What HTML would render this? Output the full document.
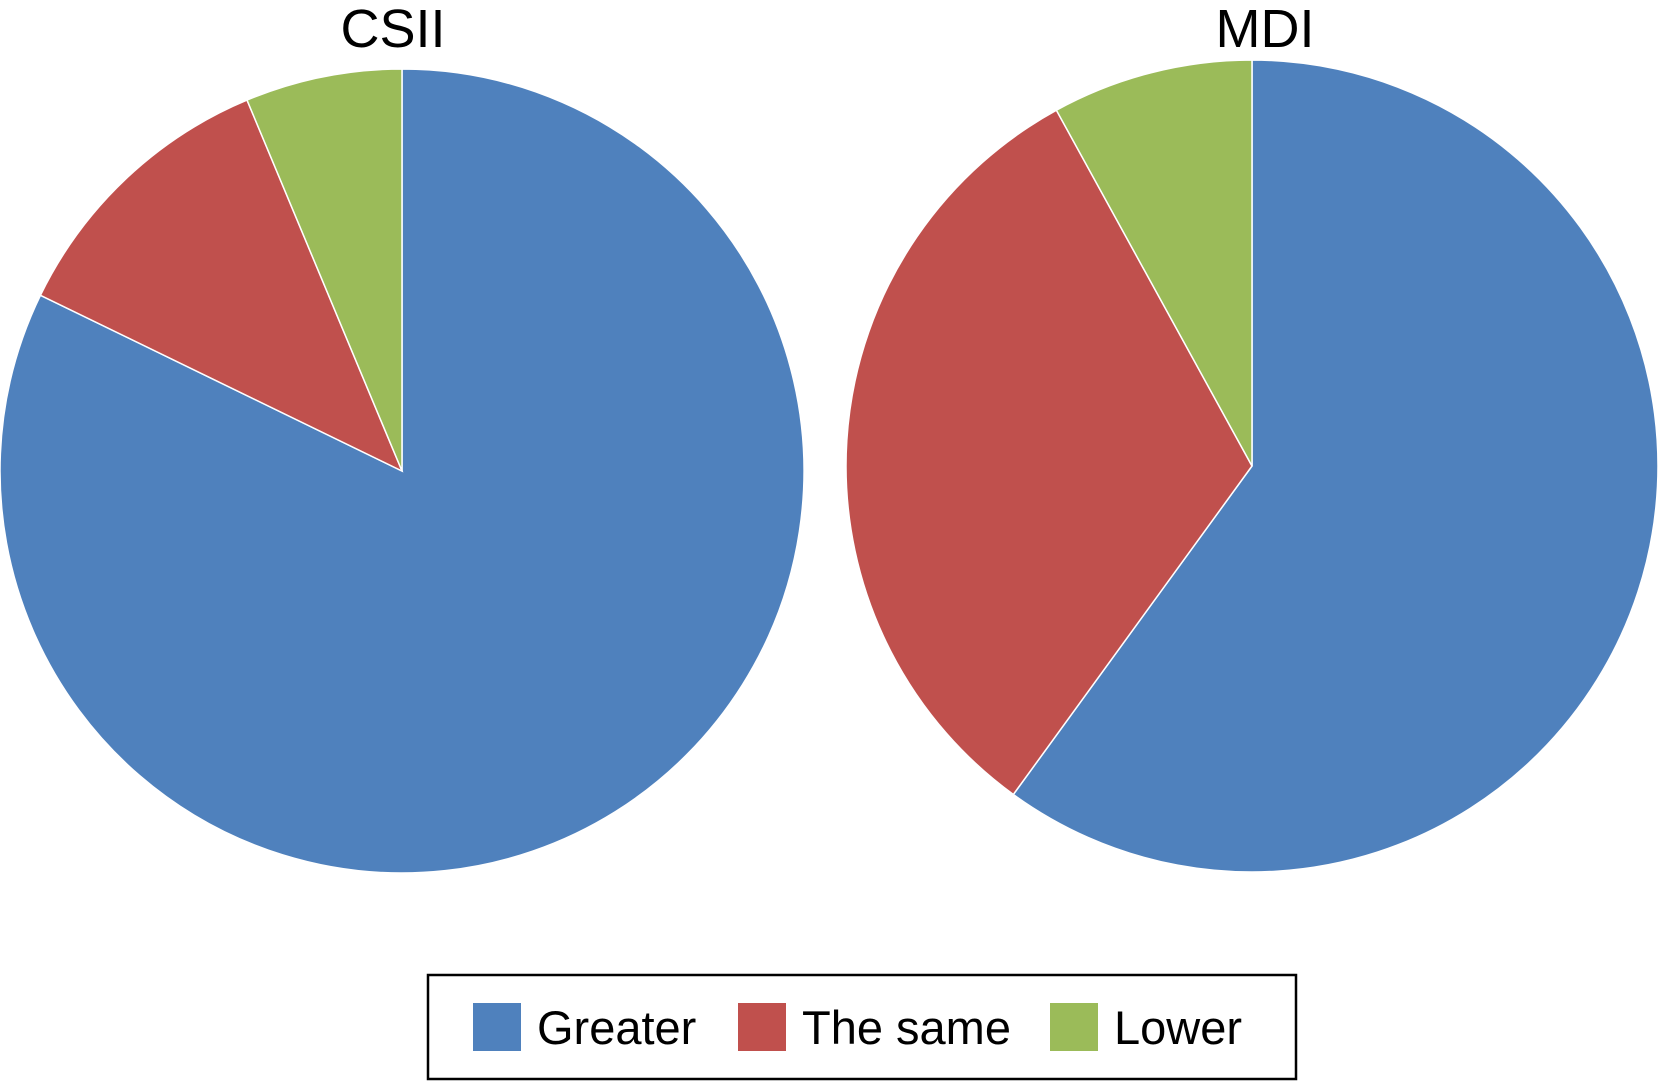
<!DOCTYPE html>
<html><head><meta charset="utf-8"><style>
html,body{margin:0;padding:0;background:#fff;}
svg{display:block;font-family:"Liberation Sans",Arial,sans-serif;}
</style></head><body>
<svg id="chart" width="1658" height="1081" viewBox="0 0 1658 1081">
<text x="393" y="47" font-size="54" text-anchor="middle">CSII</text>
<text x="1265" y="47" font-size="54" text-anchor="middle">MDI</text>
<g id="pies"></g>
<g>
<rect x="428" y="975" width="868" height="104" fill="#fff" stroke="#000" stroke-width="2.5"/>
<g id="legend"></g>
</g>
</svg>
<script>
const categories = ["Greater", "The same", "Lower"];
const colors = ["#4F81BD", "#C0504D", "#9BBB59"];
const pieTitles = ["CSII", "MDI"];
const csiiValues = [82.2, 11.5, 6.3];
const mdiValues = [60.0, 32.0, 8.0];

const pies = [
  {values: csiiValues, cx: 402, cy: 471, r: 402, name: "csii"},
  {values: mdiValues, cx: 1252, cy: 466, r: 406, name: "mdi"}
];
const NS = "http://www.w3.org/2000/svg";
const g = document.getElementById("pies");
pies.forEach(p => {
  const total = p.values.reduce((a, b) => a + b, 0);
  let a0 = 0;
  p.values.forEach((v, i) => {
    const a1 = a0 + v / total * Math.PI * 2;
    const x0 = p.cx + p.r * Math.sin(a0), y0 = p.cy - p.r * Math.cos(a0);
    const x1 = p.cx + p.r * Math.sin(a1), y1 = p.cy - p.r * Math.cos(a1);
    const large = (a1 - a0) > Math.PI ? 1 : 0;
    const path = document.createElementNS(NS, "path");
    path.setAttribute("d", `M${p.cx},${p.cy} L${x0},${y0} A${p.r},${p.r} 0 ${large} 1 ${x1},${y1} Z`);
    path.setAttribute("fill", colors[i]);
    path.setAttribute("stroke", "#fff");
    path.setAttribute("stroke-width", "1.5");
    
    
    g.appendChild(path);
    a0 = a1;
  });
});
const lg = document.getElementById("legend");
const swX = [473, 738, 1050];
categories.forEach((c, i) => {
  const r = document.createElementNS(NS, "rect");
  r.setAttribute("x", swX[i]); r.setAttribute("y", 1003);
  r.setAttribute("width", 48); r.setAttribute("height", 48);
  r.setAttribute("fill", colors[i]);
  
  
  lg.appendChild(r);
  const t = document.createElementNS(NS, "text");
  t.setAttribute("x", swX[i] + 64); t.setAttribute("y", 1044);
  t.setAttribute("font-size", "47");
  t.textContent = c;
  
  
  lg.appendChild(t);
});
</script>
</body></html>
